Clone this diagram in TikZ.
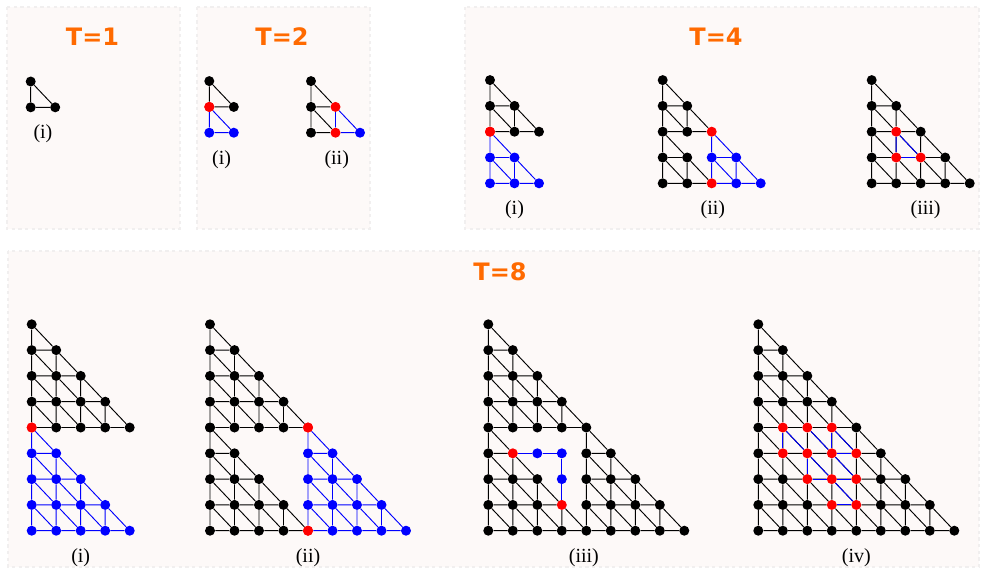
\documentclass[tikz,border=0pt]{standalone}
\usepackage{fontspec}
\setmainfont{Liberation Serif}
\newfontfamily\headfont{DejaVu Sans}
\usepackage{tikz}
\usetikzlibrary{positioning,calc}
\definecolor{cHead}{HTML}{FF6A00}
\definecolor{cBox}{HTML}{FDF9F8}
\definecolor{cRim}{HTML}{F1EFEF}

% colour of a lattice point: looked up by name, black if never painted
\newcommand\paint[3]{\foreach \p/\q in {#3}{\expandafter\xdef\csname dc@#1-\p-\q\endcsname{#2}}}
\newcommand\painttri[5]{%
  \foreach \j in {0,...,#5}{%
    \pgfmathtruncatemacro\imax{#5-\j}%
    \foreach \i in {0,...,\imax}{%
      \pgfmathtruncatemacro\xa{#3+\i}\pgfmathtruncatemacro\ya{#4+\j}%
      \expandafter\xdef\csname dc@#1-\xa-\ya\endcsname{#2}}}}
\newcommand\dotcol[3]{\ifcsname dc@#1-#2-#3\endcsname
  \edef\dc{\csname dc@#1-#2-#3\endcsname}\else\def\dc{black}\fi}
% points of a triangle of size #4 with corner (#2,#3)
\newcommand\pts[4]{%
  \foreach \j in {0,...,#4}{%
    \pgfmathtruncatemacro\imax{#4-\j}%
    \foreach \i in {0,...,\imax}{%
      \pgfmathtruncatemacro\xa{#2+\i}\pgfmathtruncatemacro\ya{#3+\j}%
      \dotcol{#1}{\xa}{\ya}%
      \node[dot, fill=\dc] (#1-\xa-\ya) at (\xa,\ya) {};}}}
% edges of a triangle of size #4 with corner (#2,#3)
\newcommand\tri[5]{%
  \foreach \j in {1,...,#4}{%
    \pgfmathtruncatemacro\imax{#4-\j}%
    \foreach \i in {0,...,\imax}{%
      \pgfmathtruncatemacro\xa{#2+\i}\pgfmathtruncatemacro\xb{#2+\i+1}%
      \pgfmathtruncatemacro\ya{#3+\j-1}\pgfmathtruncatemacro\yb{#3+\j}%
      \draw[#5] (#1-\xa-\ya) -- (#1-\xb-\ya) (#1-\xa-\ya) -- (#1-\xa-\yb)
        (#1-\xa-\yb) -- (#1-\xb-\ya);}}}

\begin{document}
\begin{tikzpicture}[x=0.75pt,y=-0.75pt]
  \tikzset{
    dot/.style={circle, inner sep=0pt, minimum size=7.5pt, draw=none},
    seg/.style={black, line width=0.7pt},
    bseg/.style={blue, line width=0.7pt},
    frame/.style={fill=cBox, draw=cRim, line width=2pt, dash pattern=on 2.5pt off 2.5pt},
    head/.style={text=cHead, font=\headfont\bfseries\fontsize{18}{20}\selectfont},
    lbl/.style={font=\fontsize{15}{17}\selectfont, inner sep=0pt},
    cell/.style={x=18.375pt, y=19.35pt},
  }
  \useasboundingbox (0,0) rectangle (981,569);
  \draw[frame] (7,7) rectangle (180,229);
  \draw[frame] (197,7) rectangle (370,229);
  \draw[frame] (465,7) rectangle (979,229);
  \draw[frame] (8,251) rectangle (979,567);
  \node[head] (T1) at (92.5,37) {T=1};
  \node[head] (T2) at (282,37) {T=2};
  \node[head] (T4) at (716,37) {T=4};
  \node[head] (T8) at (500,272) {T=8};

  % T=1 (i)
  \begin{scope}[shift={(30.7,107.3)}, cell]
    \pts{A}{0}{0}{1}
    \tri{A}{0}{0}{1}{seg}
    \node[lbl] (A-lab) at (0.5,-1.03) {(i)};
  \end{scope}
  % T=2 (i) two stacked triangles
  \begin{scope}[shift={(209.3,132.7)}, cell]
    \painttri{B}{blue}{0}{0}{1}
    \paint{B}{red}{0/1}
    \pts{B}{0}{0}{1} \pts{B}{0}{1}{1}
    \tri{B}{0}{1}{1}{seg}
    \tri{B}{0}{0}{1}{bseg}
    \node[lbl] (B-lab) at (0.5,-1.03) {(i)};
  \end{scope}
  % T=2 (ii)
  \begin{scope}[shift={(311,132.7)}, cell]
    \painttri{C}{blue}{1}{0}{1}
    \paint{C}{red}{1/1,1/0}
    \pts{C}{0}{0}{2}
    \tri{C}{0}{0}{1}{seg}
    \tri{C}{0}{1}{1}{seg}
    \tri{C}{1}{0}{1}{bseg}
    \node[lbl] (C-lab) at (1.05,-1.03) {(ii)};
  \end{scope}

  % T=4 (i)
  \begin{scope}[shift={(490,183.3)}, cell]
    \painttri{D}{blue}{0}{0}{2}
    \paint{D}{red}{0/2}
    \pts{D}{0}{0}{2} \pts{D}{0}{2}{2}
    \tri{D}{0}{2}{2}{seg}
    \tri{D}{0}{0}{2}{bseg}
    \node[lbl] (D-lab) at (1,-1.03) {(i)};
  \end{scope}
  % T=4 (ii)
  \begin{scope}[shift={(662.7,183.3)}, cell]
    \painttri{E}{blue}{2}{0}{2}
    \paint{E}{red}{2/2,2/0}
    \pts{E}{0}{0}{4}
    \tri{E}{0}{2}{2}{seg}
    \tri{E}{0}{0}{2}{seg}
    \tri{E}{2}{0}{2}{bseg}
    \node[lbl] (E-lab) at (2.05,-1.03) {(ii)};
  \end{scope}
  % T=4 (iii)
  \begin{scope}[shift={(871.7,183.3)}, cell]
    \paint{F}{red}{1/2,1/1,2/1}
    \pts{F}{0}{0}{4}
    \tri{F}{0}{0}{4}{seg}
    \draw[bseg] (F-1-2) -- (F-1-1) -- (F-2-1) -- (F-1-2);
    \node[lbl] (F-lab) at (2.2,-1.03) {(iii)};
  \end{scope}

  % T=8 (i)
  \begin{scope}[shift={(31.7,530.7)}, cell]
    \painttri{G}{blue}{0}{0}{4}
    \paint{G}{red}{0/4}
    \pts{G}{0}{0}{4} \pts{G}{0}{4}{4}
    \tri{G}{0}{4}{4}{seg}
    \tri{G}{0}{0}{4}{bseg}
    \node[lbl] (G-lab) at (2,-1.03) {(i)};
  \end{scope}
  % T=8 (ii) three corner triangles, middle left empty
  \begin{scope}[shift={(210,530.7)}, cell]
    \painttri{H}{blue}{4}{0}{4}
    \paint{H}{red}{4/4,4/0}
    \pts{H}{0}{0}{4} \pts{H}{0}{4}{4} \pts{H}{4}{0}{4}
    \tri{H}{0}{4}{4}{seg}
    \tri{H}{0}{0}{4}{seg}
    \tri{H}{4}{0}{4}{bseg}
    \node[lbl] (H-lab) at (4,-1.03) {(ii)};
  \end{scope}
  % T=8 (iii)
  \begin{scope}[shift={(488.3,530.7)}, cell]
    \paint{K}{blue}{2/3,3/3,3/2}
    \paint{K}{red}{1/3,3/1}
    \pts{K}{0}{0}{8}
    \tri{K}{0}{4}{4}{seg}
    \tri{K}{0}{0}{4}{seg}
    \tri{K}{4}{0}{4}{seg}
    \draw[bseg] (K-1-3) -- (K-2-3) -- (K-3-3) -- (K-3-2) -- (K-3-1);
    \node[lbl] (K-lab) at (3.9,-1.03) {(iii)};
  \end{scope}
  % T=8 (iv)
  \begin{scope}[shift={(758.3,530.7)}, cell]
    \paint{L}{red}{1/4,2/4,3/4,1/3,2/3,3/3,4/3,2/2,3/2,4/2,3/1,4/1}
    \pts{L}{0}{0}{8}
    \tri{L}{0}{0}{8}{seg}
    \foreach \u/\v in {1-4/1-3, 1-4/2-3, 2-4/3-3, 3-4/3-3, 3-4/4-3, 3-3/4-3,
        2-3/2-2, 2-3/3-2, 3-3/4-2, 2-2/3-2, 3-2/4-2, 3-2/4-1, 3-1/4-1}
      \draw[bseg] (L-\u) -- (L-\v);
    \node[lbl] (L-lab) at (4,-1.03) {(iv)};
  \end{scope}
\end{tikzpicture}
\end{document}
